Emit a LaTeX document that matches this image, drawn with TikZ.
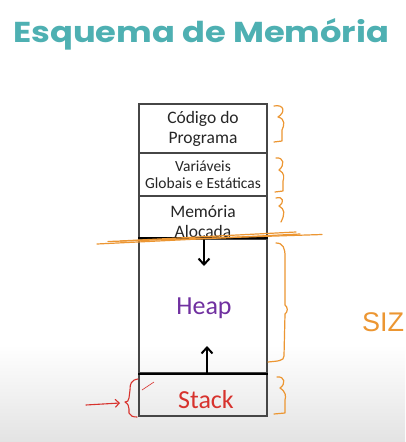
\documentclass[tikz,border=0pt]{standalone}
\usepackage{fontspec}
\setmainfont{Carlito}
\newfontfamily\titlefont{Poppins}
\newfontfamily\handfont{Liberation Sans}
\usetikzlibrary{arrows.meta}
\definecolor{tealt}{RGB}{78,176,178}
\definecolor{heapc}{RGB}{112,48,160}
\definecolor{stackc}{RGB}{215,50,45}
\definecolor{orangec}{RGB}{236,150,50}
\definecolor{boxline}{RGB}{70,70,70}
\begin{document}
\begin{tikzpicture}[x=1pt,y=-1pt,
  mbox/.style={draw=boxline,line width=1.3pt,minimum width=128pt,inner sep=0pt,align=center},
  bigtxt/.style={font=\fontsize{17.5}{20}\selectfont,text=black!85,align=center},
  smalltxt/.style={font=\fontsize{15.5}{17}\selectfont,text=black!85,align=center},
  arr/.style={line width=2pt,-{Straight Barb[length=6pt,width=11pt,line width=2pt]}},
  orng/.style={draw=orangec,line width=1.2pt,line cap=round,line join=round},
  rednote/.style={draw=stackc,line width=1.1pt,line cap=round,line join=round}]
\useasboundingbox (0,0) rectangle (405,442);
\fill[white] (0,0) rectangle (405,442);
\shade[top color=white,bottom color=black!11] (0,345) rectangle (405,442);
% title
\node[anchor=base west,inner sep=0pt,text=tealt] (title) at (13,42)
  {\resizebox{376pt}{24pt}{\titlefont\bfseries\fontsize{30}{30}\selectfont Esquema de Memória}};
% boxes
\node[mbox,minimum height=49pt,bigtxt] (code) at (203,128.5) {Código do\\Programa};
\node[mbox,minimum height=43pt,smalltxt] (vars) at (203,174.5) {Variáveis\\Globais e Estáticas};
\node[mbox,minimum height=43pt] (mem) at (203,217.5) {};
\node[bigtxt,inner sep=0pt] (memt) at (203,221.5) {Memória\\Alocada};
\node[mbox,minimum height=134pt] (heap) at (203,306) {};
\node[mbox,minimum height=43pt] (stack) at (203,394.5) {};
\draw[line width=2pt,black] (heap.north west) -- (heap.north east);
\draw[line width=2pt,black] (heap.south west) -- (heap.south east);
\node[font=\fontsize{26}{26}\selectfont,text=heapc] (heapt) at (204,308) {Heap};
\node[font=\fontsize{26}{26}\selectfont,text=stackc] (stackt) at (206,400) {Stack};
% arrows
\coordinate (dnend) at (204,266);
\coordinate (upend) at (207,346);
\draw[arr] ([xshift=1pt]heap.north) -- (dnend);
\draw[arr] ([xshift=4pt]heap.south) -- (upend);
% orange annotations
\draw[orng] (97,244) -- (300,234);
\draw[orng] (108,241.5) -- (322,234.5);
\draw[orng] (120,241) -- (296,232);
\draw[orng] (274,106) .. controls (284,104) and (286,112) .. (278,117)
  .. controls (286,119) and (284,126) .. (282,130) -- (282,141) -- (274,142);
\draw[orng] (276,158) .. controls (284,157) and (285,165) .. (279,170)
  .. controls (285,173) and (284,178) .. (283,181) -- (283,191) -- (275,192);
\draw[orng] (276,198) .. controls (283,196) and (285,202) .. (279,206)
  .. controls (285,209) and (285,214) .. (281,222);
\draw[orng] (276,243) .. controls (283,243) and (285,248) .. (285,256) -- (285,305)
  .. controls (288,307) and (288,312) .. (285,314) -- (284,356)
  .. controls (284,361) and (278,361) .. (268,362);
\draw[orng] (277,377) .. controls (285,376) and (286,384) .. (280,388)
  .. controls (286,392) and (286,396) .. (285,400) -- (285,413) -- (274,414);
\node[anchor=base west,inner sep=0pt,text=orangec,font=\handfont\fontsize{27}{27}\selectfont] (siz) at (362,331) {SIZ};
% red annotations
\coordinate (rarrs) at (86,405);
\coordinate (rarre) at (120,403);
\draw[rednote,-{Straight Barb[length=4pt,width=8pt,line width=1.1pt]}] (rarrs) -- (rarre);
\draw[rednote] (138,379) .. controls (131,380) and (130,384) .. (130,390) -- (129,398)
  .. controls (129,401) and (127,402) .. (125,402) .. controls (128,404) and (129,406) .. (129,409)
  -- (129,413) .. controls (130,416) and (133,417) .. (137,417);
\draw[stackc,line width=0.6pt] (142,390) -- (154,382);
\end{tikzpicture}
\end{document}
